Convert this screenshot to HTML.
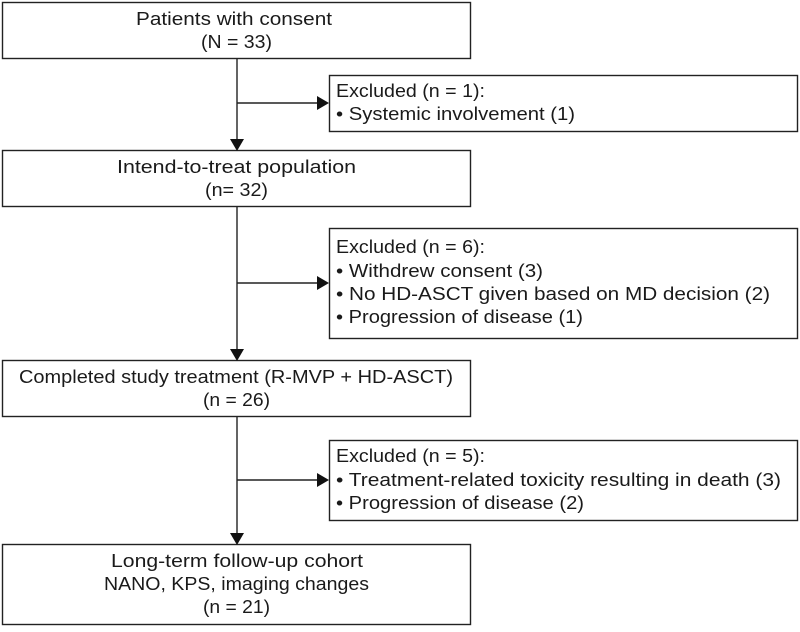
<!DOCTYPE html>
<html><head><meta charset="utf-8"><style>
body{margin:0;background:#fff;}
svg text{font-family:"Liberation Sans",sans-serif;font-size:18.5px;fill:#1a1a1a;}
</style></head><body>
<svg width="800" height="627" viewBox="0 0 800 627" xmlns="http://www.w3.org/2000/svg">
<g fill="none" stroke="#222" stroke-width="1.4">
<rect x="2.5" y="2.5" width="468" height="56"/>
<rect x="329.5" y="75.5" width="468" height="56"/>
<rect x="2.5" y="150.5" width="468" height="56"/>
<rect x="329.5" y="228.5" width="468" height="110"/>
<rect x="2.5" y="360.5" width="468" height="56"/>
<rect x="329.5" y="440.5" width="468" height="80"/>
<rect x="2.5" y="544.5" width="468" height="80"/>
<line x1="237" y1="59" x2="237" y2="140"/>
<line x1="237" y1="103" x2="318" y2="103"/>
<line x1="237" y1="207" x2="237" y2="350"/>
<line x1="237" y1="283" x2="318" y2="283"/>
<line x1="237" y1="417" x2="237" y2="534"/>
<line x1="237" y1="480" x2="318" y2="480"/>
</g>
<g fill="#111">
<polygon points="230,139 244,139 237,151"/>
<polygon points="230,349 244,349 237,361"/>
<polygon points="230,533 244,533 237,545"/>
<polygon points="317,96 317,110 329,103"/>
<polygon points="317,276 317,290 329,283"/>
<polygon points="317,473 317,487 329,480"/>
</g>
<g lengthAdjust="spacingAndGlyphs">
<text x="136" y="25" textLength="196" lengthAdjust="spacingAndGlyphs">Patients with consent</text>
<text x="201" y="48" textLength="71" lengthAdjust="spacingAndGlyphs">(N = 33)</text>
<text x="117" y="173" textLength="239" lengthAdjust="spacingAndGlyphs">Intend-to-treat population</text>
<text x="205" y="196" textLength="63" lengthAdjust="spacingAndGlyphs">(n= 32)</text>
<text x="19" y="383" textLength="434" lengthAdjust="spacingAndGlyphs">Completed study treatment (R-MVP + HD-ASCT)</text>
<text x="203" y="406" textLength="67" lengthAdjust="spacingAndGlyphs">(n = 26)</text>
<text x="111" y="567" textLength="252" lengthAdjust="spacingAndGlyphs">Long-term follow-up cohort</text>
<text x="104" y="590" textLength="265" lengthAdjust="spacingAndGlyphs">NANO, KPS, imaging changes</text>
<text x="203" y="613" textLength="67" lengthAdjust="spacingAndGlyphs">(n = 21)</text>
<text x="336" y="97" textLength="149" lengthAdjust="spacingAndGlyphs">Excluded (n = 1):</text>
<text x="336" y="120" textLength="239" lengthAdjust="spacingAndGlyphs">• Systemic involvement (1)</text>
<text x="336" y="253" textLength="149" lengthAdjust="spacingAndGlyphs">Excluded (n = 6):</text>
<text x="336" y="277" textLength="207" lengthAdjust="spacingAndGlyphs">• Withdrew consent (3)</text>
<text x="336" y="300" textLength="434" lengthAdjust="spacingAndGlyphs">• No HD-ASCT given based on MD decision (2)</text>
<text x="336" y="323" textLength="247" lengthAdjust="spacingAndGlyphs">• Progression of disease (1)</text>
<text x="336" y="462" textLength="149" lengthAdjust="spacingAndGlyphs">Excluded (n = 5):</text>
<text x="336" y="486" textLength="445" lengthAdjust="spacingAndGlyphs">• Treatment-related toxicity resulting in death (3)</text>
<text x="336" y="509" textLength="248" lengthAdjust="spacingAndGlyphs">• Progression of disease (2)</text>
</g>
</svg>
</body></html>
